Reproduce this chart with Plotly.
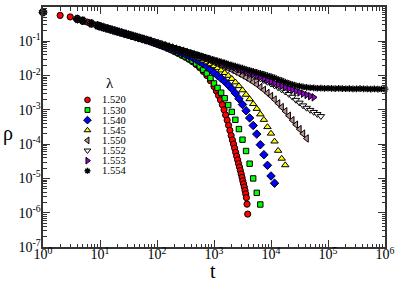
import numpy as np
import plotly.graph_objects as go

# ---------------- data ----------------
LAMBDAS = ["1.520", "1.530", "1.540", "1.545", "1.550", "1.552", "1.553", "1.554"]

# early times shared by all curves (they coincide there)
T_HEAD = [1, 4, 5, 7, 9, 10, 11.5, 13.3, 15.4, 17.8, 20.5, 23.7, 27.4, 31.6, 36.5, 42.2, 48.7, 56.2, 64.9, 75.0]
LOG_RHO_HEAD = [-0.15, -0.35, -0.40, -0.48, -0.54, -0.565, -0.5955, -0.626, -0.6565, -0.687, -0.7175,
                -0.748, -0.7785, -0.809, -0.8395, -0.87, -0.9005, -0.931, -0.9615, -0.992]

# extra early points only visible for lambda = 1.520
T_RED_EARLY = [2, 3, 6]
LOG_RHO_RED_EARLY = [-0.245, -0.29, -0.44]

# time grid used by all curves after t = 75
T_GRID = [86.6, 100, 115.5, 133.4, 154.0, 177.8, 205.4, 237.1, 273.8, 316.2, 365.2, 421.7, 487.0,
          562.3, 649.4, 749.9, 866.0, 1000, 1155, 1334, 1540, 1778, 2054, 2371, 2738, 3162, 3652,
          4217, 4870, 5623, 6494, 7499, 8660, 10000, 11548, 13335, 15399, 17783, 20535, 23714,
          27384, 31623, 36517, 42170, 48697, 56234, 64938, 74989, 86596, 100000, 115478, 133352,
          153993, 177828, 205353, 237137, 273842, 316228, 365174, 421697, 486968, 562341, 649382,
          749894, 865964, 1000000]

# log10(rho) on T_GRID for each lambda
LOG_RHO_1520 = [-1.0425, -1.083, -1.1235, -1.164, -1.2095, -1.255, -1.3055, -1.356, -1.4115, -1.467,
                -1.5275, -1.598, -1.6785, -1.769, -1.8795, -2.0, -2.1505, -2.32]
T_RED_LATE = [1100, 1200, 1300, 1400, 1500, 1600, 1700, 1800, 1900, 2000, 2100, 2200, 2300, 2400,
              2500, 2600, 2700, 2800, 2900, 3000, 3100, 3200, 3300, 3400, 3500, 3600, 3700, 3800, 3900]
LOG_RHO_1520_LATE = [-2.45, -2.58, -2.71, -2.85, -3.0, -3.15, -3.30, -3.45, -3.60, -3.75, -3.88, -4.0,
                     -4.12, -4.24, -4.35, -4.46, -4.57, -4.67, -4.77, -4.87, -4.97, -5.07, -5.16,
                     -5.25, -5.35, -5.45, -5.56, -5.75, -6.04]
LOG_RHO_1530 = [-1.0375, -1.073, -1.1135, -1.154, -1.1945, -1.24, -1.2855, -1.336, -1.3865, -1.442,
                -1.5025, -1.568, -1.6435, -1.729, -1.8295, -1.94, -2.0705, -2.23, -2.36, -2.50, -2.66,
                -2.86, -3.06, -3.29, -3.56, -3.87, -4.20, -4.57, -5.00, -5.42, -5.76]
LOG_RHO_1540 = [-1.0325, -1.065, -1.0995, -1.134, -1.1715, -1.21, -1.2495, -1.291, -1.3325, -1.377,
                -1.4235, -1.473, -1.5285, -1.589, -1.6595, -1.73, -1.8205, -1.921, -2.0015, -2.082,
                -2.1725, -2.273, -2.3835, -2.514, -2.6745, -2.845, -3.0255, -3.236, -3.4565, -3.707,
                -4.0175, -4.308, -4.6185, -4.929, -5.14]
LOG_RHO_1545 = [-1.0275, -1.059, -1.0915, -1.124, -1.1575, -1.192, -1.2275, -1.264, -1.3015, -1.34,
                -1.3795, -1.421, -1.4645, -1.51, -1.5595, -1.61, -1.6655, -1.721, -1.7815, -1.847,
                -1.9225, -2.003, -2.0935, -2.194, -2.3045, -2.425, -2.5555, -2.686, -2.8265, -2.967,
                -3.1275, -3.288, -3.4985, -3.689, -3.9195, -4.19, -4.4205, -4.611]
LOG_RHO_1550 = [-1.0245, -1.056, -1.0865, -1.118, -1.1495, -1.181, -1.2135, -1.246, -1.2785, -1.312,
                -1.3455, -1.38, -1.4155, -1.451, -1.4885, -1.527, -1.5675, -1.609, -1.6515, -1.695,
                -1.7395, -1.786, -1.8335, -1.884, -1.9395, -1.995, -2.0555, -2.116, -2.1865, -2.257,
                -2.3375, -2.418, -2.5085, -2.599, -2.6995, -2.81, -2.9205, -3.041, -3.1715, -3.302,
                -3.4325, -3.563, -3.6935, -3.834]
LOG_RHO_1552 = [-1.0235, -1.054, -1.085, -1.116, -1.1465, -1.178, -1.2085, -1.24, -1.2715, -1.303,
                -1.3355, -1.368, -1.4005, -1.433, -1.4665, -1.50, -1.5345, -1.569, -1.6045, -1.64,
                -1.6765, -1.713, -1.7505, -1.789, -1.8285, -1.869, -1.9105, -1.953, -1.9965, -2.042,
                -2.0895, -2.138, -2.1885, -2.239, -2.2945, -2.35, -2.4105, -2.471, -2.5415, -2.622,
                -2.7125, -2.793, -2.8735, -2.944, -3.0045, -3.065, -3.1255, -3.186]
LOG_RHO_1553 = [-1.0235, -1.054, -1.0845, -1.115, -1.1455, -1.176, -1.2065, -1.237, -1.2675, -1.298,
                -1.3295, -1.361, -1.3925, -1.424, -1.4555, -1.488, -1.5205, -1.553, -1.5865, -1.62,
                -1.6545, -1.689, -1.7245, -1.761, -1.7985, -1.837, -1.8765, -1.917, -1.9585, -2.001,
                -2.0445, -2.088, -2.1315, -2.175, -2.2175, -2.26, -2.3005, -2.341, -2.3795, -2.417,
                -2.4555, -2.493, -2.5285, -2.564, -2.5995, -2.635]
LOG_RHO_1554 = [-1.0225, -1.053, -1.0835, -1.114, -1.1445, -1.175, -1.2055, -1.236, -1.2665, -1.297,
                -1.3275, -1.358, -1.3885, -1.419, -1.4495, -1.48, -1.5105, -1.541, -1.5715, -1.602,
                -1.6325, -1.663, -1.6935, -1.724, -1.7545, -1.785, -1.8155, -1.846, -1.8765, -1.907,
                -1.9375, -1.968, -1.9985, -2.029, -2.07, -2.11, -2.15, -2.19, -2.23, -2.26, -2.29,
                -2.31, -2.33, -2.345, -2.355, -2.36, -2.37, -2.365, -2.375, -2.37, -2.372, -2.378,
                -2.375, -2.381, -2.384, -2.379, -2.386, -2.388, -2.383, -2.390, -2.387, -2.393,
                -2.389, -2.395, -2.392, -2.396]

# ---------------- styles ----------------
SERIF = "Liberation Serif, Times New Roman, DejaVu Serif, serif"
COLORS = ["#ff0000", "#00ff00", "#0000ff", "#ffff00", "#bc8f8f", "#ffffff", "#9400d3", "#000000"]
SYMBOLS = ["circle", "square", "diamond", "triangle-up", "triangle-left", "triangle-down",
           "triangle-right", "asterisk-open"]
SIZES = [6.2, 5.4, 6.5, 6.5, 6.5, 6.5, 6.5, 5.6]


def series(i):
    tails = [LOG_RHO_1520, LOG_RHO_1530, LOG_RHO_1540, LOG_RHO_1545,
             LOG_RHO_1550, LOG_RHO_1552, LOG_RHO_1553, LOG_RHO_1554]
    logs = tails[i]
    t = list(T_HEAD) + list(T_GRID[:len(logs)])
    lr = list(LOG_RHO_HEAD) + list(logs)
    if i == 0:
        t = list(T_HEAD[:1]) + T_RED_EARLY + list(T_HEAD[1:]) + list(T_GRID[:len(logs)]) + T_RED_LATE
        lr = list(LOG_RHO_HEAD[:1]) + LOG_RHO_RED_EARLY + list(LOG_RHO_HEAD[1:]) + list(logs) + LOG_RHO_1520_LATE
    return np.array(t, dtype=float), 10.0 ** np.array(lr)


def marker_for(i, shrink=0.0):
    if SYMBOLS[i] == "asterisk-open":
        return dict(symbol=SYMBOLS[i], size=SIZES[i] - shrink, color="#000000",
                    line=dict(color="#000000", width=1.4))
    return dict(symbol=SYMBOLS[i], size=SIZES[i] - shrink, color=COLORS[i],
                line=dict(color="#000000", width=1))


fig = go.Figure()
for i, lam in enumerate(LAMBDAS):
    t, rho = series(i)
    fig.add_trace(go.Scatter(x=t, y=rho, mode="markers", marker=marker_for(i), name=lam,
                             showlegend=False, cliponaxis=False))

# ---------------- manual legend (overlay axes in [0,1]) ----------------
LEG_X_MARK = 0.130
LEG_X_TEXT = 0.167
LEG_Y0 = 0.613
LEG_DY = 0.0422
for i, lam in enumerate(LAMBDAS):
    yy = LEG_Y0 - i * LEG_DY
    fig.add_trace(go.Scatter(x=[LEG_X_MARK], y=[yy], xaxis="x2", yaxis="y2", mode="markers",
                             marker=marker_for(i, 0.6), showlegend=False, hoverinfo="skip"))
    fig.add_annotation(x=LEG_X_TEXT, y=yy, xref="paper", yref="paper", text=lam,
                       showarrow=False, xanchor="left", yanchor="middle",
                       font=dict(family=SERIF, size=10.5, color="#000"))
fig.add_annotation(x=0.195, y=0.6826, xref="paper", yref="paper", text="λ", showarrow=False,
                   xanchor="center", yanchor="middle",
                   font=dict(family=SERIF, size=15, color="#000"))

# axis titles
fig.add_annotation(x=-0.103, y=0.475, xref="paper", yref="paper", text="ρ", showarrow=False,
                   xanchor="center", yanchor="middle",
                   font=dict(family=SERIF, size=20, color="#000"))
fig.add_annotation(x=0.498, y=-0.102, xref="paper", yref="paper", text="t", showarrow=False,
                   xanchor="center", yanchor="middle",
                   font=dict(family=SERIF, size=20, color="#000"))

# ---------------- axes ----------------
XT_EXP = [0, 1, 2, 3, 4, 5, 6]
YT_EXP = [-7, -6, -5, -4, -3, -2, -1, 0]
x_minor = [k * 10.0 ** n for n in range(0, 6) for k in range(2, 10)]
y_minor = [k * 10.0 ** n for n in range(-7, 0) for k in range(2, 10)]

axis_common = dict(type="log", showgrid=False, zeroline=False, showline=True, linewidth=1.6,
                   linecolor="#333333", mirror="allticks", ticks="inside", ticklen=7,
                   tickwidth=1, tickcolor="#333333", automargin=False,
                   tickfont=dict(family=SERIF, size=14, color="#000"))

fig.update_layout(
    width=395, height=281,
    margin=dict(l=43, r=10, t=7, b=34, autoexpand=False),
    paper_bgcolor="white", plot_bgcolor="white",
    showlegend=False,
    xaxis=dict(range=[0, 6], tickvals=[10.0 ** e for e in XT_EXP],
               ticktext=["10<sup>%d</sup>" % e for e in XT_EXP],
               ticklabelstandoff=-6,
               minor=dict(tickvals=x_minor, ticks="inside", ticklen=3.5, tickwidth=1,
                          tickcolor="#333333", showgrid=False),
               **axis_common),
    yaxis=dict(range=[-7, 0], tickvals=[10.0 ** e for e in YT_EXP],
               ticktext=["10<sup>%d</sup>" % e for e in YT_EXP],
               ticklabelstandoff=-2,
               minor=dict(tickvals=y_minor, ticks="inside", ticklen=3.5, tickwidth=1,
                          tickcolor="#333333", showgrid=False),
               **axis_common),
    xaxis2=dict(overlaying="x", range=[0, 1], visible=False, anchor="y2"),
    yaxis2=dict(overlaying="y", range=[0, 1], visible=False, anchor="x2"),
)

fig.write_html("out.html",
               config={"displayModeBar": False, "staticPlot": True},
               post_script="document.body.style.margin='0px';document.body.style.padding='0px';"
                           "document.body.style.overflow='hidden';")
